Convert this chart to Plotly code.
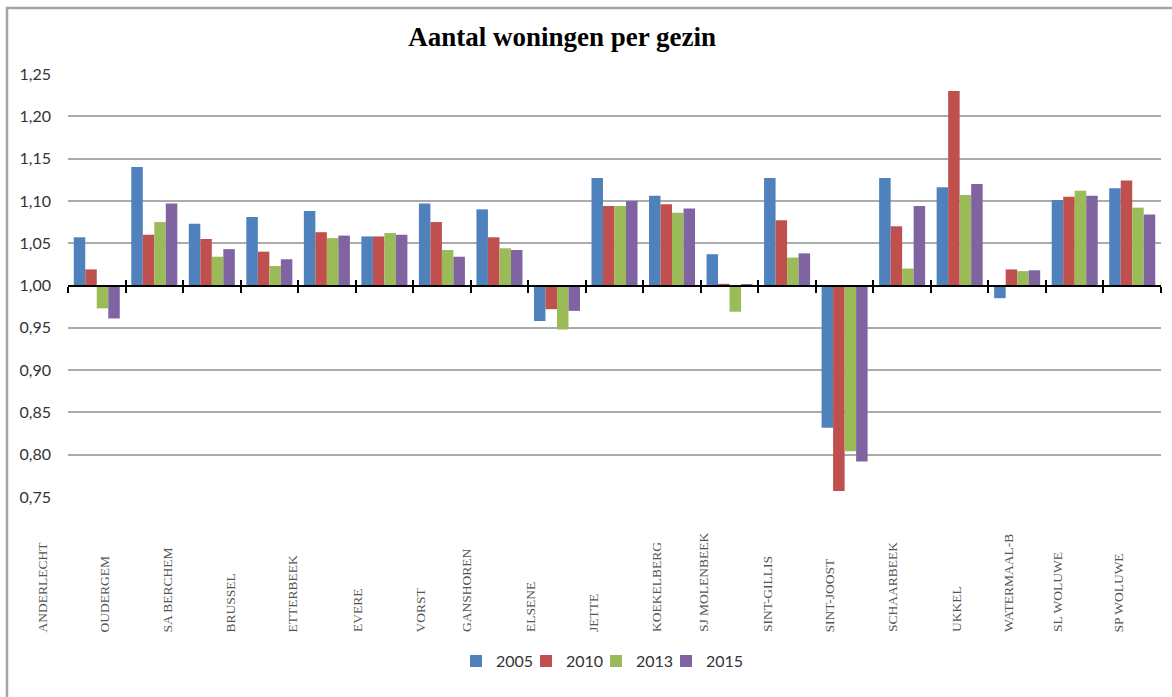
import plotly.graph_objects as go

categories = ["ANDERLECHT", "OUDERGEM", "SA BERCHEM", "BRUSSEL", "ETTERBEEK", "EVERE",
              "VORST", "GANSHOREN", "ELSENE", "JETTE", "KOEKELBERG", "SJ MOLENBEEK",
              "SINT-GILLIS", "SINT-JOOST", "SCHAARBEEK", "UKKEL", "WATERMAAL-B",
              "SL WOLUWE", "SP WOLUWE"]

v2005 = [1.057, 1.140, 1.073, 1.081, 1.088, 1.058, 1.097, 1.090, 0.958, 1.127,
         1.106, 1.037, 1.127, 0.832, 1.127, 1.116, 0.985, 1.101, 1.115]
v2010 = [1.019, 1.060, 1.055, 1.040, 1.063, 1.058, 1.075, 1.057, 0.972, 1.094,
         1.096, 1.002, 1.077, 0.757, 1.070, 1.230, 1.019, 1.105, 1.124]
v2013 = [0.973, 1.075, 1.034, 1.023, 1.056, 1.062, 1.042, 1.044, 0.948, 1.094,
         1.086, 0.969, 1.033, 0.804, 1.020, 1.107, 1.017, 1.112, 1.092]
v2015 = [0.961, 1.097, 1.043, 1.031, 1.059, 1.060, 1.034, 1.042, 0.970, 1.100,
         1.091, 1.001, 1.038, 0.792, 1.094, 1.120, 1.018, 1.106, 1.084]

series_names = ["2005", "2010", "2013", "2015"]
series_values = [v2005, v2010, v2013, v2015]
colors = ["#4F81BD", "#C0504D", "#9BBB59", "#8064A2"]

baseline = 1.0
ytick_vals = [0.75, 0.80, 0.85, 0.90, 0.95, 1.00, 1.05, 1.10, 1.15, 1.20, 1.25]

# layout: where the (misaligned) category labels sit, in category-index units
label_pos = [-0.935, 0.143, 1.238, 2.333, 3.411, 4.523, 5.636, 6.418, 7.531, 8.626,
             9.721, 10.538, 11.650, 12.745, 13.823, 14.935, 15.839, 16.691, 17.769]

fig = go.Figure()
for name, vals, col in zip(series_names, series_values, colors):
    fig.add_trace(go.Bar(
        x=categories,
        y=[v - baseline for v in vals],
        base=baseline,
        name=name,
        marker=dict(color=col, line=dict(width=0)),
    ))

n = len(categories)

# invisible trace: activates xaxis2 (inner tick marks) and pads the legend so the last entry is not clipped
fig.add_trace(go.Scatter(x=[-0.5, n - 0.5], y=[None, None], xaxis="x2", yaxis="y",
                         name=" ", showlegend=True, hoverinfo="skip", mode="markers",
                         marker=dict(opacity=0, color="rgba(0,0,0,0)")))

fig.update_layout(
    width=1172, height=697,
    margin=dict(l=68, r=11, t=74, b=200, autoexpand=False),
    paper_bgcolor="white", plot_bgcolor="white",
    separators=",.",
    barmode="group", bargap=0.2, bargroupgap=0,
    title=dict(text="<b>Aantal woningen per gezin</b>",
               font=dict(family="Liberation Serif", size=27, color="black"),
               x=0.452, xref="paper", xanchor="center",
               y=1 - 37 / 697, yref="container", yanchor="middle"),
    showlegend=True,
    legend=dict(orientation="h", x=0.355, xanchor="left", y=-0.388, yanchor="middle",
                font=dict(family="Lato", size=16, color="#333333"),
                itemwidth=30, entrywidth=25, traceorder="normal",
                bgcolor="rgba(0,0,0,0)"),
    font=dict(family="Lato", size=16, color="#333333"),
    xaxis=dict(type="category", anchor="free", position=0.5,
               showline=True, linecolor="black", linewidth=2,
               ticks="outside", ticklen=6, tickwidth=2, tickcolor="black",
               tickson="boundaries", showticklabels=False, showgrid=False,
               range=[-0.5, n - 0.5], automargin=False),
    xaxis2=dict(overlaying="x", anchor="free", position=0.5,
                range=[-0.5, n - 0.5], tick0=-0.5, dtick=1,
                ticks="inside", ticklen=6, tickwidth=2, tickcolor="black",
                showticklabels=False, showgrid=False, zeroline=False, showline=False,
                automargin=False),
    yaxis=dict(range=[0.75, 1.25], tickvals=ytick_vals, tickformat=".2f",
               showgrid=True, gridcolor="#ABABAB", gridwidth=1.5,
               zeroline=False, showline=False, ticks="",
               ticklabelstandoff=16, automargin=False,
               tickfont=dict(family="Lato", size=16, color="#333333")),
)

for name, pos in zip(categories, label_pos):
    fig.add_annotation(x=(pos + 0.5) / n, xref="paper", y=-0.324, yref="paper",
                       text=name, textangle=-90, showarrow=False,
                       xanchor="center", yanchor="bottom",
                       font=dict(family="Liberation Serif", size=13.5, color="#555555"))

# outer frame (left + top edges)
fig.add_shape(type="path", xref="paper", yref="paper",
              path="M -0.0558,-0.5 L -0.0558,1.156 L 1.03,1.156",
              line=dict(color="#A6A6A6", width=2.5))

fig.write_html("out.html", config={"displayModeBar": False},
               post_script="document.body.style.margin='0px';")
